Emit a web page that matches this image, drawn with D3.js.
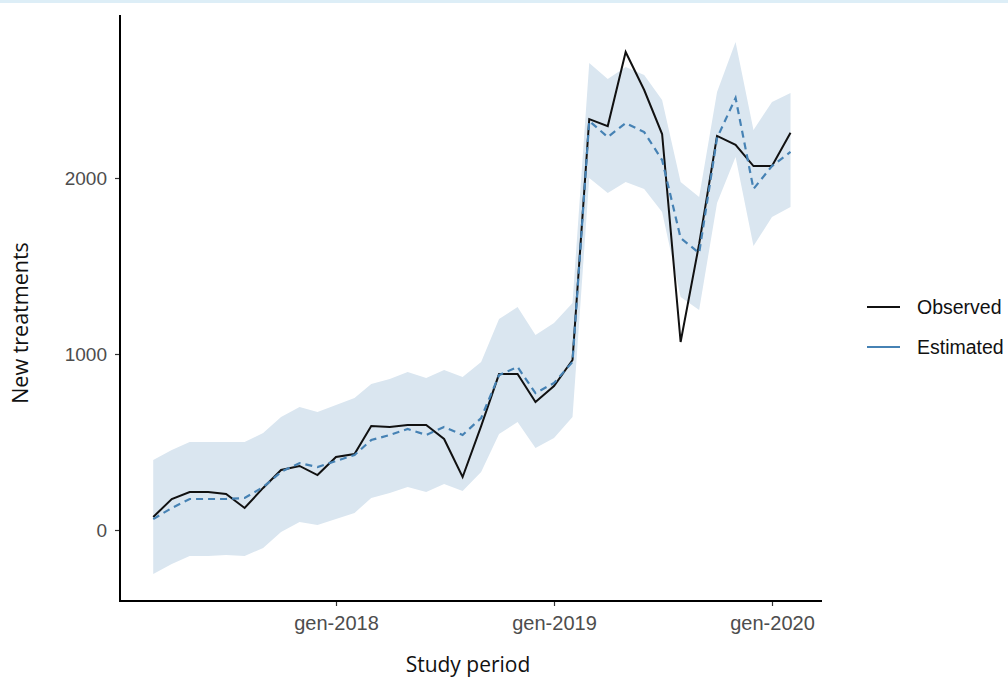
<!DOCTYPE html>
<html><head><meta charset="utf-8">
<script src="https://cdn.jsdelivr.net/npm/d3@7"></script>
<style>html,body{margin:0;padding:0;background:#fff;}</style>
</head><body>
<script>
// month index 0 = Mar 2017 ... 35 = Feb 2020
const startYear = 2017, startMonth = 2;
const observed = [74,176,216,216,205,125,239,341,364,312,415,432,591,585,597,597,517,301,590,886,886,727,818,966,2335,2295,2716,2500,2250,1068,1625,2239,2188,2068,2068,2257];
const estimated = [62,125,176,176,176,182,244,330,380,358,392,426,511,540,574,540,585,540,636,880,926,778,835,955,2324,2233,2312,2261,2102,1659,1574,2227,2455,1938,2068,2148];
const upper = [398,455,500,500,500,500,551,642,699,670,710,750,830,858,898,864,909,869,955,1199,1267,1108,1176,1290,2653,2562,2631,2585,2443,1977,1892,2489,2773,2273,2432,2483];
const lower = [-250,-193,-148,-148,-142,-148,-102,-11,45,28,62,97,182,210,244,216,261,222,330,545,614,466,523,642,2000,1915,1977,1938,1807,1324,1250,1858,2119,1614,1778,1835];
const yTicks = [0,1000,2000];
const xTickDates = [new Date(2018,0,1), new Date(2019,0,1), new Date(2020,0,1)];
const xTickLabels = ["gen-2018","gen-2019","gen-2020"];
const seriesNames = ["Observed","Estimated"];

(function(){
const W = 1008, H = 678;
const svg = d3.select("body").append("svg").attr("width",W).attr("height",H);
svg.append("rect").attr("x",0).attr("y",0).attr("width",W).attr("height",3).attr("fill","#ddeef7");

const pLeft = 120, pRight = 822, pTop = 15, pBottom = 601;
const xBase = d3.scaleTime().domain([xTickDates[0], xTickDates[2]]).range([336,772]);
const x = d3.scaleTime().domain([xBase.invert(pLeft), xBase.invert(pRight)]).range([pLeft,pRight]);
const y = d3.scaleLinear().domain([0,2000]).range([530,178]);

const data = observed.map((v,i)=>({
  date: new Date(startYear, startMonth + i, 1),
  obs: v, est: estimated[i], hi: upper[i], lo: lower[i]
}));

svg.append("path").datum(data)
  .attr("d", d3.area().x(d=>x(d.date)).y0(d=>y(d.lo)).y1(d=>y(d.hi)))
  .attr("fill","#dae6f0");

svg.append("path").datum(data)
  .attr("d", d3.line().x(d=>x(d.date)).y(d=>y(d.obs)))
  .attr("fill","none").attr("stroke","#111").attr("stroke-width",2);

svg.append("path").datum(data)
  .attr("d", d3.line().x(d=>x(d.date)).y(d=>y(d.est)))
  .attr("fill","none").attr("stroke","#4682b4").attr("stroke-width",2.2)
  .attr("stroke-dasharray","7,5");

const gx = svg.append("g").attr("transform",`translate(0,${pBottom})`)
  .call(d3.axisBottom(x).tickValues(xTickDates).tickFormat((d,i)=>xTickLabels[i]).tickSizeOuter(0).tickSize(5).tickPadding(10));
const gy = svg.append("g").attr("transform",`translate(${pLeft},0)`)
  .call(d3.axisLeft(y).tickValues(yTicks).tickFormat(d3.format("d")).tickSizeOuter(0).tickSize(5).tickPadding(8));
gx.select(".domain").remove(); gy.select(".domain").remove();
[gx,gy].forEach(g=>{
  g.selectAll(".tick line").attr("stroke","#333").attr("stroke-width",1.2);
  g.selectAll(".tick text").attr("fill","#4d4d4d").style("font-family","'Liberation Sans', Arial, sans-serif");
});
gx.selectAll(".tick text").style("font-size","20px");
gy.selectAll(".tick text").style("font-size","19px");
svg.append("line").attr("x1",pLeft).attr("x2",pRight).attr("y1",pBottom).attr("y2",pBottom).attr("stroke","#000").attr("stroke-width",2);
svg.append("line").attr("x1",pLeft).attr("x2",pLeft).attr("y1",pTop).attr("y2",pBottom+1).attr("stroke","#000").attr("stroke-width",2);

svg.append("text").attr("x",468).attr("y",672).attr("text-anchor","middle")
  .style("font-family","'Open Sans', 'Noto Sans', sans-serif").style("font-size","21px").attr("fill","#111").text("Study period");
svg.append("text").attr("transform","translate(28,323) rotate(-90)").attr("text-anchor","middle")
  .style("font-family","'Open Sans', 'Noto Sans', sans-serif").style("font-size","21.5px").attr("fill","#111").text("New treatments");

const lg = svg.append("g");
const legColors = ["#111","#4682b4"];
seriesNames.forEach((n,i)=>{
  const yy = 307 + i*40;
  lg.append("line").attr("x1",867).attr("x2",900).attr("y1",yy).attr("y2",yy).attr("stroke",legColors[i]).attr("stroke-width",2);
  lg.append("text").attr("x",917).attr("y",yy+7).style("font-family","'Liberation Sans', Arial, sans-serif").style("font-size","19.5px").attr("fill","#111").text(n);
});
})();
</script>
</body></html>
